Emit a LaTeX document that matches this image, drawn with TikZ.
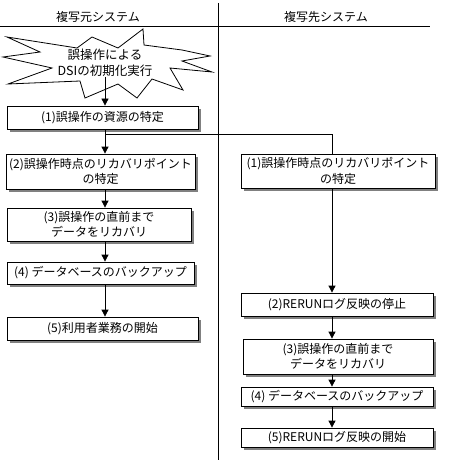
\documentclass[tikz,border=0pt]{standalone}
\usepackage{fontspec}
\setmainfont{Noto Sans CJK JP}
\usetikzlibrary{arrows.meta,shadows}
\tikzset{
  box/.style={draw, fill=white, line width=0.8pt, inner sep=0pt, align=center,
    font=\fontsize{12}{15.5}\selectfont,
    general shadow={fill=black!50, shadow xshift=3pt, shadow yshift=-3pt}},
  arr/.style={line width=0.8pt, -{Triangle[length=7pt,width=7pt]}},
  conn/.style={line width=0.8pt},
  hdr/.style={font=\fontsize{12}{14}\selectfont, inner sep=0pt},
  bursttext/.style={font=\fontsize{12.5}{16}\selectfont, inner sep=0pt, align=center},
}
\begin{document}
\begin{tikzpicture}[x=1pt,y=-1pt]
\useasboundingbox (0,0) rectangle (450,468);
% lanes
\node[hdr] (h1) at (98,17) {複写元システム};
\node[hdr] (h2) at (326,17) {複写先システム};
\draw[conn] (0,26) -- (430,26);
\draw[conn] (218,3) -- (218,460);
\coordinate (ls) at (105,0);
\coordinate (rs) at (332,0);
% starburst
\draw[conn, fill=white] (7,37) -- (77,48) -- (92,37) -- (118,48) -- (143,29) -- (144,45)
  -- (182,50) -- (210,56) -- (182,61) -- (212,72) -- (170,68) -- (183,90) -- (152,79)
  -- (137,98) -- (118,84) -- (85,98) -- (80,81) -- (8,84) -- (52,68) -- (3,57) -- (40,52) -- cycle;
\node[bursttext] (bt) at (105,63) {誤操作による\\DSIの初期化実行};
% left column
\node[box, minimum width=191pt, minimum height=23pt] (l1) at (102.5,117.5) {(1)誤操作の資源の特定};
\node[box, minimum width=189pt, minimum height=35pt] (l2) at (100.5,171.5) {(2)誤操作時点のリカバリポイント\\の特定};
\node[box, minimum width=184pt, minimum height=33pt] (l3) at (99,224.5) {(3)誤操作の直前まで\\データをリカバリ};
\node[box, minimum width=187pt, minimum height=22pt] (l4) at (100.5,273) {(4) データベースのバックアップ};
\node[box, minimum width=191pt, minimum height=23pt] (l5) at (102.5,328.5) {(5)利用者業務の開始};
% right column
\node[box, minimum width=194pt, minimum height=34pt] (r1) at (338,171) {(1)誤操作時点のリカバリポイント\\の特定};
\node[box, minimum width=192pt, minimum height=23pt] (r2) at (337,304.5) {(2)RERUNログ反映の停止};
\node[box, minimum width=190pt, minimum height=35pt] (r3) at (338,356.5) {(3)誤操作の直前まで\\データをリカバリ};
\node[box, minimum width=192pt, minimum height=19pt] (r4) at (337,396.5) {(4) データベースのバックアップ};
\node[box, minimum width=192pt, minimum height=19pt] (r5) at (337,437.5) {(5)RERUNログ反映の開始};
% connectors
\coordinate (j) at (105,134);
\draw[arr] (bt.south -| ls) -- (l1.north -| ls);
\draw[arr] (l1.south -| ls) -- (l2.north -| ls);
\draw[conn] (j) -| (r1.north -| rs);
\draw[arr] (l2.south -| ls) -- (l3.north -| ls);
\draw[arr] (l3.south -| ls) -- (l4.north -| ls);
\draw[arr] (l4.south -| ls) -- (l5.north -| ls);
\draw[arr] (r1.south -| rs) -- (r2.north -| rs);
\draw[arr] (r2.south -| rs) -- (r3.north -| rs);
\draw[arr] (r3.south -| rs) -- (r4.north -| rs);
\draw[arr] (r4.south -| rs) -- (r5.north -| rs);
\end{tikzpicture}
\end{document}
